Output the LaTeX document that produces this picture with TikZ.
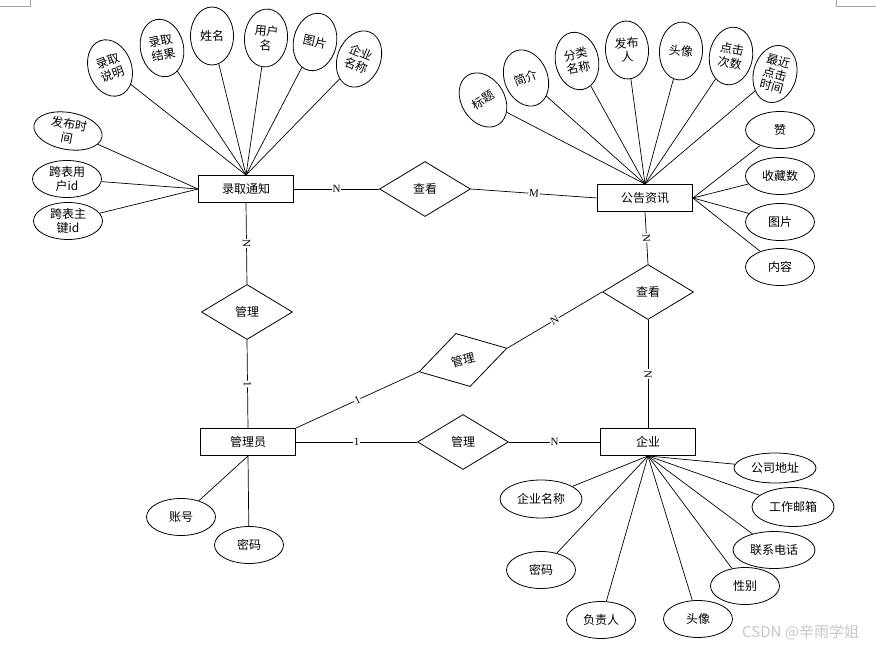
\documentclass[tikz,border=0pt]{standalone}
\usepackage{fontspec}
\setmainfont{Liberation Serif}
\newfontfamily\cjkf{Noto Sans CJK SC}
\usetikzlibrary{shapes.geometric}
\begin{document}
\begin{tikzpicture}[x=1pt,y=-1pt,
 every node/.style={font=\cjkf\fontsize{12}{14}\selectfont, inner sep=0pt, align=center},
 ent/.style={draw, line width=0.9pt, minimum width=95pt, minimum height=27pt},
 rel/.style={draw, diamond, line width=0.8pt, minimum width=91pt, minimum height=55pt, aspect=1.65},
 va/.style={draw, ellipse, line width=0.8pt, minimum width=43pt, minimum height=58pt},
 ha/.style={draw, ellipse, line width=0.8pt, minimum width=69pt, minimum height=37pt},
 wa/.style={draw, ellipse, line width=0.8pt, minimum width=82pt, minimum height=37pt},
 card/.style={font=\rmfamily\fontsize{11}{11}\selectfont, fill=white, inner sep=0.6pt, sloped},
 link/.style={line width=0.7pt},
 cornermark/.style={draw=black!35, line width=0.5pt}
]
\useasboundingbox[fill=white] (0,0) rectangle (876,647);
\draw[cornermark] (0,6) -- (30,6) -- (30,0);
\draw[cornermark] (876,6) -- (836,6) -- (836,0);

% entities
\node[ent] (lq) at (246,189) {录取通知};
\node[ent] (gg) at (645,198) {公告资讯};
\node[ent] (admin) at (248,442) {管理员};
\node[ent] (qy) at (648,442) {企业};
% relations
\node[rel] (ck1) at (425,189) {查看};
\node[rel] (ck2) at (648,292) {查看};
\node[rel] (gl1) at (247,312) {管理};
\node[rel, rotate=15] (gl2) at (463,360) {};
\node[rotate=15] (gl2t) at (gl2) {管理};
\node[rel] (gl3) at (463,442) {管理};

% attributes of 录取通知
\node[va, rotate=20] (a1) at (110,68) {};
\node[rotate=20] (a1t) at (a1) {录取\\说明};
\node[va, rotate=12] (a2) at (162,48) {};
\node[rotate=12] (a2t) at (a2) {录取\\结果};
\node[va] (a3) at (212,36) {姓名};
\node[va, rotate=-5] (a4) at (266,38) {};
\node[rotate=-5] (a4t) at (a4) {用户\\名};
\node[va, rotate=-12] (a5) at (315,42) {};
\node[rotate=-12] (a5t) at (a5) {图片};
\node[va, rotate=-22] (a6) at (359,59) {};
\node[rotate=-22] (a6t) at (a6) {企业\\名称};
\node[ha, rotate=-10] (a7) at (68,131) {};
\node[rotate=-10] (a7t) at (a7) {发布时\\间};
\node[ha] (a8) at (67,179) {跨表用\\户id};
\node[ha] (a9) at (68,221) {跨表主\\键id};
\foreach \n in {a1,a2,a3,a4,a5,a6} \draw[link] (\n) -- (lq.north);
\foreach \n in {a7,a8,a9} \draw[link] (\n) -- (lq.west);

% attributes of 公告资讯
\node[va, rotate=32] (b1) at (483,100) {};
\node[rotate=32] (b1t) at (b1) {标题};
\node[va, rotate=22] (b2) at (526,78) {};
\node[rotate=22] (b2t) at (b2) {简介};
\node[va, rotate=12] (b3) at (577,61) {};
\node[rotate=12] (b3t) at (b3) {分类\\名称};
\node[va, rotate=3] (b4) at (627,50) {};
\node[rotate=3] (b4t) at (b4) {发布\\人};
\node[va, rotate=-5] (b5) at (681,51) {};
\node[rotate=-5] (b5t) at (b5) {头像};
\node[va, rotate=-10] (b6) at (731,56) {};
\node[rotate=-10] (b6t) at (b6) {点击\\次数};
\node[va, rotate=-15] (b7) at (775,74) {};
\node[rotate=-15, font=\cjkf\fontsize{12}{13}\selectfont] (b7t) at (b7) {最近\\点击\\时间};
\node[ha] (b8) at (780,130) {赞};
\node[ha] (b9) at (780,176) {收藏数};
\node[ha] (b10) at (780,222) {图片};
\node[ha] (b11) at (780,267) {内容};
\foreach \n in {b1,b2,b3,b4,b5,b6,b7} \draw[link] (\n) -- (gg.north);
\foreach \n in {b8,b9,b10,b11} \draw[link] (\n) -- (gg.east);

% attributes of 管理员
\node[ha] (c1) at (181,517) {账号};
\node[ha] (c2) at (249,545) {密码};
\draw[link] (c1) -- (admin.south);
\draw[link] (c2) -- (admin.south);

% attributes of 企业
\node[wa, minimum height=30pt] (d1) at (775,468) {公司地址};
\node[wa, minimum height=39pt] (d2) at (793,507) {工作邮箱};
\node[wa] (d3) at (774,550) {联系电话};
\node[ha] (d4) at (745,586) {性别};
\node[ha] (d5) at (698,619) {头像};
\node[ha] (d6) at (601,620) {负责人};
\node[ha] (d7) at (541,570) {密码};
\node[wa, minimum height=38pt] (d8) at (541,499) {企业名称};
\foreach \n in {d1,d2,d3,d4,d5,d6,d7,d8} \draw[link] (\n) -- (qy.south);

% relationships
\draw[link] (lq.east) -- node[card]{N} (ck1.west);
\draw[link] (ck1.east) -- node[card]{M} (gg.west);
\draw[link] (lq.south) -- node[card]{N} (gl1.north);
\draw[link] (gl1.south) -- node[card]{1} (admin.north);
\draw[link] (gg.south) -- node[card]{N} (ck2.north);
\draw[link] (ck2.south) -- node[card]{N} (qy.north);
\draw[link] (admin.north east) -- node[card]{1} (gl2.west);
\draw[link] (gl2.east) -- node[card]{N} (ck2.west);
\draw[link] (admin.east) -- node[card]{1} (gl3.west);
\draw[link] (gl3.east) -- node[card]{N} (qy.west);

\node[anchor=west, text=black!22, font=\cjkf\fontsize{15}{15}\selectfont] (wm) at (742,632) {CSDN @辛雨学姐};
\end{tikzpicture}
\end{document}
